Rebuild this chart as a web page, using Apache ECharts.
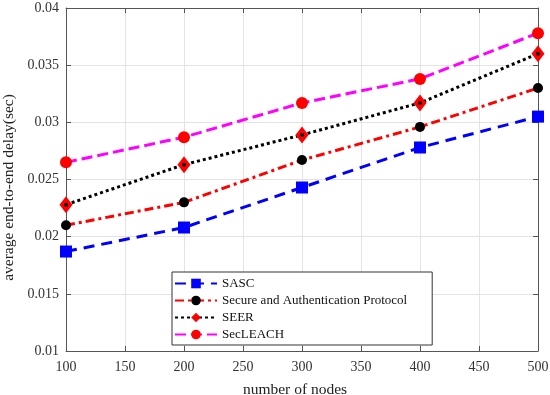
<!DOCTYPE html>
<html><head><meta charset="utf-8">
<script src="https://cdn.jsdelivr.net/npm/echarts@6/dist/echarts.min.js"></script>
<style>html,body{margin:0;padding:0;background:#fff}#c{width:550px;height:395px}</style>
</head><body><div id="c"></div>
<script>
const categories = [100, 200, 300, 400, 500];
const sasc = [0.0187, 0.0208, 0.0243, 0.0278, 0.0305];
const sap = [0.0210, 0.0230, 0.0267, 0.0296, 0.0330];
const seer = [0.0228, 0.0263, 0.0289, 0.0317, 0.0360];
const secleach = [0.0265, 0.0287, 0.0317, 0.0338, 0.0378];
const seriesNames = ['SASC', 'Secure and Authentication Protocol', 'SEER', 'SecLEACH'];
const font = 'Liberation Serif, Times New Roman, serif';
const pair = a => a.map((v, i) => [categories[i], v]);

const chart = echarts.init(document.getElementById('c'));
const axisCommon = {
  axisLine: {show: true, onZero: false, lineStyle: {color: '#555', width: 1}},
  axisTick: {show: true, inside: true, length: 5, lineStyle: {color: '#555'}},
};
chart.setOption({
  animation: false,
  backgroundColor: '#fff',
  grid: {left: 66, top: 8, right: 12, bottom: 44, show: false, containLabel: false, outerBoundsMode: 'none'},
  xAxis: [
    Object.assign({type: 'value', min: 100, max: 500, interval: 50, position: 'bottom',
      name: 'number of nodes', nameLocation: 'middle', nameGap: 31,
      nameTextStyle: {fontFamily: font, fontSize: 15.5, color: '#222', padding: [0, 14, 0, 0]},
      axisLabel: {fontFamily: font, fontSize: 14, color: '#333', margin: 9},
      splitLine: {show: true, lineStyle: {color: '#e3e3e3'}}}, axisCommon),
    Object.assign({type: 'value', min: 100, max: 500, interval: 50, position: 'top',
      axisLabel: {show: false}, splitLine: {show: false}}, axisCommon)
  ],
  yAxis: [
    Object.assign({type: 'value', min: 0.01, max: 0.04, interval: 0.005, position: 'left',
      name: 'average end-to-end delay(sec)', nameLocation: 'middle', nameGap: 48,
      nameTextStyle: {fontFamily: font, fontSize: 15.5, color: '#222', padding: [0, 16, 0, 0]},
      axisLabel: {fontFamily: font, fontSize: 14, color: '#333', margin: 7,
        formatter: v => String(+v.toFixed(3))},
      splitLine: {show: true, lineStyle: {color: '#e3e3e3'}}}, axisCommon),
    Object.assign({type: 'value', min: 0.01, max: 0.04, interval: 0.005, position: 'right',
      axisLabel: {show: false}, splitLine: {show: false}}, axisCommon)
  ],
  legend: {
    orient: 'vertical', left: 172, top: 272,
    backgroundColor: '#fff', borderColor: '#333', borderWidth: 1, borderRadius: 0,
    padding: [5, 25, 4, 2], itemGap: 4, itemWidth: 42, itemHeight: 12,
    textStyle: {fontFamily: font, fontSize: 13, color: '#111'},
    data: seriesNames
  },
  series: [
    {name: seriesNames[0], type: 'line', data: pair(sasc), symbol: 'rect', symbolSize: 12,
      itemStyle: {color: '#0000ff'}, lineStyle: {color: '#0000ff', width: 3, type: [11, 7]}},
    {name: seriesNames[1], type: 'line', data: pair(sap), symbol: 'circle', symbolSize: 10,
      itemStyle: {color: '#000'}, lineStyle: {color: '#ff0000', width: 3, type: [9, 4, 3, 4]}},
    {name: seriesNames[2], type: 'line', data: pair(seer), symbol: 'diamond', symbolSize: [13, 17],
      itemStyle: {color: '#ff0000'}, lineStyle: {color: '#000', width: 3, type: [3, 3]}},
    {name: seriesNames[3], type: 'line', data: pair(secleach), symbol: 'circle', symbolSize: 12,
      itemStyle: {color: '#ff0000'}, lineStyle: {color: '#ff00ff', width: 3, type: [11, 5]}},
    {name: 'seerDot', type: 'line', data: pair(seer), symbol: 'circle', symbolSize: 4,
      itemStyle: {color: '#000'}, lineStyle: {width: 0, opacity: 0}, z: 5}
  ]
});
</script></body></html>
